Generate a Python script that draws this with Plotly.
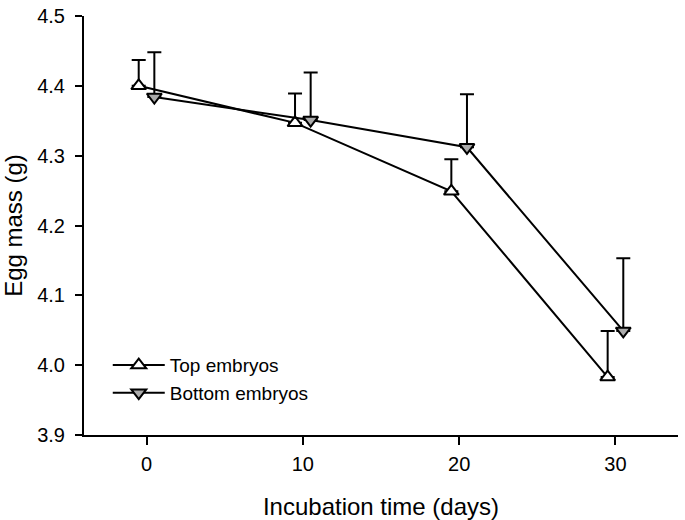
import plotly.graph_objects as go

days = [0, 10, 20, 30]
top_x = [-0.5, 9.5, 19.5, 29.5]
bottom_x = [0.5, 10.5, 20.5, 30.5]
top_mass = [4.400, 4.347, 4.249, 3.983]
top_err = [0.037, 0.042, 0.046, 0.066]
bottom_mass = [4.384, 4.351, 4.312, 4.049]
bottom_err = [0.064, 0.068, 0.076, 0.104]
x_ticks = [0, 10, 20, 30]
y_ticks = [3.9, 4.0, 4.1, 4.2, 4.3, 4.4, 4.5]

FONT = "Liberation Sans, Arial, sans-serif"

fig = go.Figure()
fig.add_trace(go.Scatter(
    x=top_x, y=top_mass, name="Top embryos", mode="lines+markers",
    line=dict(color="black", width=2),
    marker=dict(symbol="triangle-up", size=13, color="white",
                line=dict(color="black", width=2)),
    error_y=dict(type="data", array=top_err, arrayminus=[0]*4, symmetric=False,
                 color="black", thickness=2, width=7),
))
fig.add_trace(go.Scatter(
    x=bottom_x, y=bottom_mass, name="Bottom embryos", mode="lines+markers",
    line=dict(color="black", width=2),
    marker=dict(symbol="triangle-down", size=13, color="#ababab",
                line=dict(color="black", width=2)),
    error_y=dict(type="data", array=bottom_err, arrayminus=[0]*4, symmetric=False,
                 color="black", thickness=2, width=7),
))

fig.update_layout(
    width=685, height=520,
    margin=dict(l=84, r=7, t=16, b=85),
    paper_bgcolor="white", plot_bgcolor="white",
    font=dict(family=FONT, color="black", size=20),
    showlegend=True,
    legend=dict(x=0.04, y=0.212, xanchor="left", yanchor="top",
                bgcolor="rgba(0,0,0,0)", borderwidth=0,
                font=dict(size=19), itemwidth=52, tracegroupgap=0),
    xaxis=dict(range=[-4, 34], tickvals=x_ticks, showline=True, linecolor="black",
               linewidth=2, ticks="outside", ticklen=8, tickwidth=2, tickcolor="black",
               showgrid=False, zeroline=False, tickfont=dict(size=20), automargin=False,
               ticklabelstandoff=2, ticklabeloverflow="allow",
               title=dict(text="Incubation time (days)", font=dict(size=24), standoff=24)),
    yaxis=dict(range=[3.9, 4.5], tickvals=y_ticks, tickformat=".1f", showline=True,
               linecolor="black", linewidth=2, ticks="outside", ticklen=7, tickwidth=2,
               tickcolor="black", showgrid=False, zeroline=False, tickfont=dict(size=20),
               ticklabelstandoff=6, automargin=False, ticklabeloverflow="allow",
               title=dict(text="Egg mass (g)", font=dict(size=24), standoff=22)),
)

# remove the browser's default 8px body margin so the figure fills the window exactly
fig.write_html("out.html", config={"displayModeBar": False},
               post_script="document.body.style.margin='0px';document.body.style.overflow='hidden';")
